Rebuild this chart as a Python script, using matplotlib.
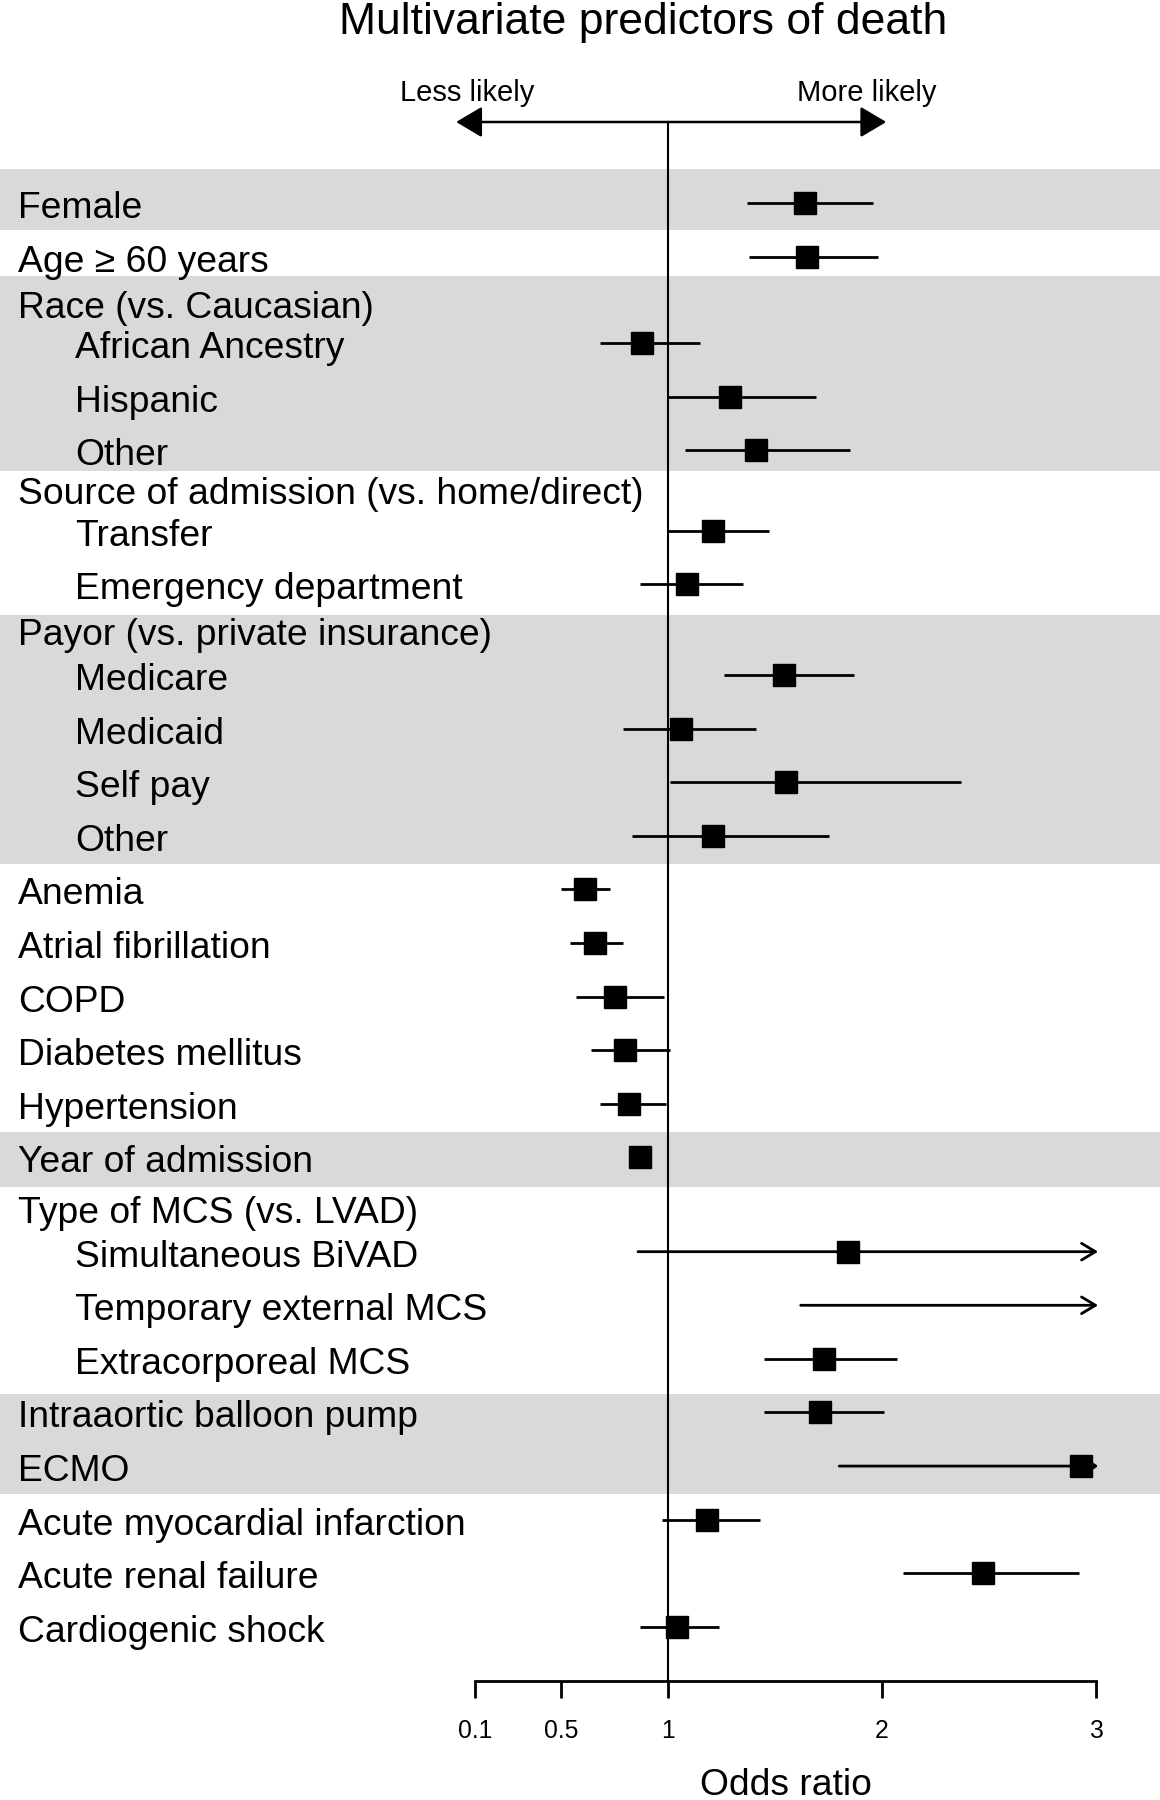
import numpy as np
import matplotlib
matplotlib.use("Agg")
import matplotlib.pyplot as plt
import matplotlib.transforms as mtransforms
from matplotlib.patches import FancyArrowPatch

# rows of the forest plot, top to bottom
labels = ["Female", "Age \u2265 60 years", "Race (vs. Caucasian)", "African Ancestry",
          "Hispanic", "Other", "Source of admission (vs. home/direct)", "Transfer",
          "Emergency department", "Payor (vs. private insurance)", "Medicare", "Medicaid",
          "Self pay", "Other", "Anemia", "Atrial fibrillation", "COPD", "Diabetes mellitus",
          "Hypertension", "Year of admission", "Type of MCS (vs. LVAD)", "Simultaneous BiVAD",
          "Temporary external MCS", "Extracorporeal MCS", "Intraaortic balloon pump", "ECMO",
          "Acute myocardial infarction", "Acute renal failure", "Cardiogenic shock"]
indented = [0, 0, 0, 1, 1, 1, 0, 1, 1, 0, 1, 1, 1, 1, 0, 0, 0, 0, 0, 0, 0, 1, 1, 1, 0, 0, 0, 0, 0]

na = np.nan
odds = [1.64, 1.65, na, 0.88, 1.29, 1.41, na, 1.21, 1.09, na, 1.54, 1.06, 1.55, 1.21,
        0.61, 0.66, 0.75, 0.80, 0.82, 0.87, na, 1.84, 3.60, 1.73, 1.71, 2.93,
        1.18, 2.47, 1.04]
ci_low = [1.37, 1.38, na, 0.68, 1.00, 1.08, na, 1.00, 0.87, na, 1.26, 0.79, 1.01, 0.83,
          0.50, 0.54, 0.57, 0.64, 0.68, 0.86, na, 0.86, 1.62, 1.45, 1.45, 1.80,
          0.97, 2.10, 0.87]
ci_high = [1.96, 1.98, na, 1.15, 1.69, 1.85, na, 1.47, 1.35, na, 1.87, 1.41, 2.37, 1.75,
           0.73, 0.79, 0.98, 1.01, 0.99, 0.88, na, 4.20, 7.50, 2.07, 2.01, 4.70,
           1.43, 2.92, 1.24]

xticks = [0.1, 0.5, 1, 2, 3]
xtick_labels = ["0.1", "0.5", "1", "2", "3"]

# layout (pixels from top of the figure)
W, H = 1160, 1800
x_one, x_unit = 668, 214          # pixel of OR=1 and pixels per OR unit
row_step = 53.6
row_gaps = [0, 1, .86, .755, 1, 1, .73, .77, 1, .85, .84, 1, 1, 1, 1, 1, 1, 1, 1, 1,
            .95, .81, 1, 1, 1, 1, 1, 1, 1]
row_y = 203 + row_step * np.cumsum(row_gaps)
bands = [(169, 229.5), (276, 471), (615, 864), (1132, 1187), (1394, 1494)]
axis_y = 1681
x_max = 3.01

plt.rcParams["font.family"] = ["Liberation Sans", "DejaVu Sans"]

fig = plt.figure(figsize=(W / 100, H / 100), dpi=100)
ax = fig.add_axes([0, 0, 1, 1])
ax.set_xlim(1 - x_one / x_unit, 1 + (W - x_one) / x_unit)
ax.set_ylim(H, 0)

for top, bot in bands:
    ax.axhspan(top, bot, color="#d9d9d9", lw=0, zorder=0)

ax.plot([1, 1], [122, axis_y], color="black", lw=1.5, zorder=2)

lab_tr = mtransforms.blended_transform_factory(ax.transAxes, ax.transData)
for i, lab in enumerate(labels):
    x = 75 if indented[i] else 18
    ax.text(x / W, row_y[i] + 15, lab, transform=lab_tr, fontsize=26.8,
            va="baseline", ha="left", zorder=3)

    if np.isnan(odds[i]):
        continue
    lo, hi, pt = ci_low[i], ci_high[i], odds[i]
    y = row_y[i]
    if hi > x_max:
        # CI runs off the scale: draw it with an arrow at the end
        if pt <= x_max and pt > 2.5:
            style = "-|>,head_length=0.8,head_width=0.55"
        else:
            style = "->,head_length=1.0,head_width=0.6"
        arr = FancyArrowPatch((lo, y), (x_max, y), arrowstyle=style, mutation_scale=10,
                              lw=2, color="black", shrinkA=0, shrinkB=0, zorder=3)
        ax.add_patch(arr)
    else:
        ax.plot([lo, hi], [y, y], color="black", lw=2, solid_capstyle="butt", zorder=3)
    if pt <= x_max:
        ax.plot(pt, y, marker="s", ms=15.8, color="black", zorder=4)

# direction arrow
dir_arrow = FancyArrowPatch((0.01, 122), (2.02, 122),
                            arrowstyle="<|-|>,head_length=1.6,head_width=0.95",
                            mutation_scale=10, lw=1.8, color="black",
                            shrinkA=0, shrinkB=0, zorder=3)
ax.add_patch(dir_arrow)
ax.text(0.061, 101, "Less likely", fontsize=21, ha="center", va="baseline")
ax.text(1.93, 101, "More likely", fontsize=21, ha="center", va="baseline")

# x axis
for side in ["top", "left", "right"]:
    ax.spines[side].set_visible(False)
ax.spines["bottom"].set_position(("data", axis_y))
ax.spines["bottom"].set_bounds(0.1, 3)
ax.spines["bottom"].set_linewidth(2)
ax.set_yticks([])
ax.set_xticks(xticks)
ax.set_xticklabels(xtick_labels)
ax.tick_params(axis="x", direction="out", length=12, width=2, pad=15, labelsize=17.8)
ax.patch.set_visible(False)

ax.text(1.55, 1795, "Odds ratio", fontsize=26.8, ha="center", va="baseline")

fig.text(643 / W, 1 - 34 / H, "Multivariate predictors of death",
         fontsize=32, ha="center", va="baseline")

fig.savefig("out.png", dpi=100)
